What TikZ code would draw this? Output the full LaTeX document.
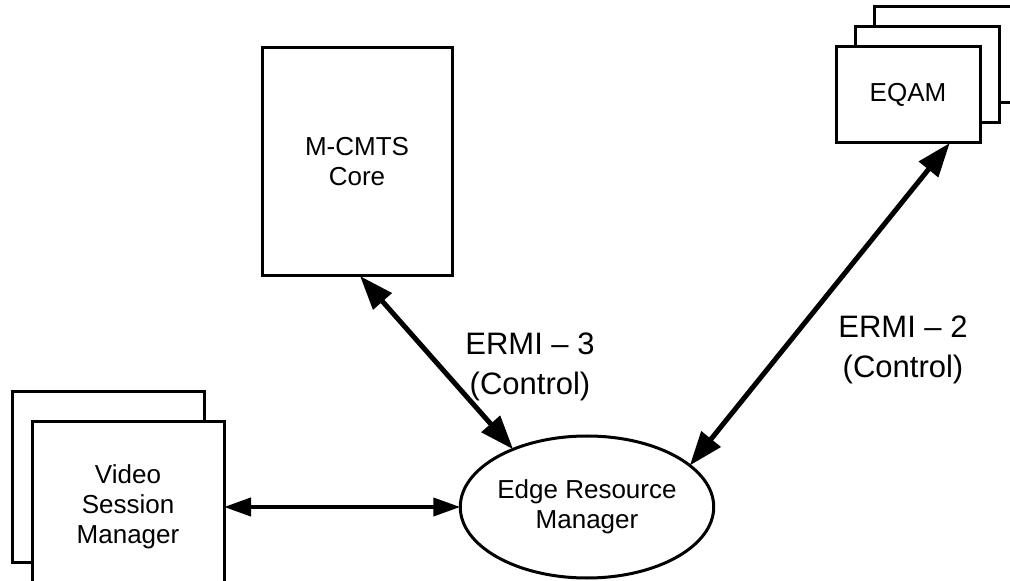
\documentclass[tikz,border=0pt]{standalone}
\usepackage{fontspec}
\setmainfont{Liberation Sans}
\usetikzlibrary{arrows.meta,shapes.geometric,calc}
\begin{document}
\begin{tikzpicture}[x=0.5pt,y=-0.5pt,
  box/.style={draw, line width=1.5pt, fill=white, inner sep=0pt, outer sep=0pt, align=center,
    font=\fontsize{13pt}{15pt}\selectfont},
  ermbox/.style={draw, ellipse, line width=1.5pt, fill=white, inner sep=0pt, outer sep=0pt, align=center,
    minimum width=122pt, minimum height=71pt, font=\fontsize{13pt}{15pt}\selectfont},
  lbl/.style={inner sep=0pt, align=center, font=\fontsize{15.5pt}{20pt}\selectfont},
  ermi/.style={line width=2.5pt, {Triangle[length=17pt,width=12pt]}-{Triangle[length=17pt,width=12pt]}},
  hlink/.style={line width=2pt, {Triangle[length=13.5pt,width=9pt]}-{Triangle[length=13.5pt,width=9pt]}}
]
\useasboundingbox (0,0) rectangle (1010,581);
\clip (0,0) rectangle (1010,581);

% M-CMTS Core
\node[box, minimum width=95pt, minimum height=114pt] (mcmts) at (357,162) {M-CMTS\\Core};

% EQAM stack
\node[box, minimum width=72pt, minimum height=48pt] (eqam3) at (946,55) {};
\node[box, minimum width=72pt, minimum height=48pt] (eqam2) at (927,75) {};
\node[box, minimum width=72pt, minimum height=48pt] (eqam1) at (908,95) {EQAM};

% Video Session Manager stack
\node[box, minimum width=96pt, minimum height=85.5pt] (vsm1) at (108,477) {};
\node[box, minimum width=96pt, minimum height=85.5pt] (vsm2) at (128,507) {Video\\Session\\Manager};

% Edge Resource Manager
\node[ermbox] (erm) at (587,507) {Edge Resource\\Manager};

% Labels
\node[lbl, anchor=north] (l3) at (530,332) {ERMI \textendash{} 3\\(Control)};
\node[lbl, anchor=north] (l2) at (903,315) {ERMI \textendash{} 2\\(Control)};

% Connectors
\draw[ermi] ($(mcmts.south)+(3,0)$) -- (erm.142.5);
\draw[ermi] (erm.22.6) -- ($(eqam1.south west)!0.79!(eqam1.south east)$);
\draw[hlink] (vsm2.east) -- (erm.west);
\end{tikzpicture}
\end{document}
